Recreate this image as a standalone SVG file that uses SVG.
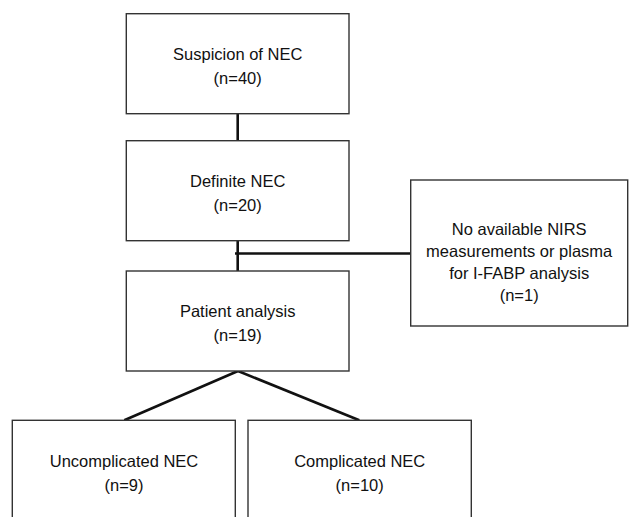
<svg xmlns="http://www.w3.org/2000/svg" width="629" height="517" viewBox="0 0 629 517">
<style>
.box{fill:#fff;stroke:#333;stroke-width:1.4}
.lbl{font-family:"Liberation Sans",Arial,sans-serif;font-size:16.5px;fill:#111;text-anchor:middle}
.con{stroke:#111;stroke-width:2.6;fill:none}
</style>
<rect width="629" height="517" fill="#fff"/>
<g id="connectors">
<line class="con" x1="237.7" y1="113.7" x2="237.7" y2="140.7"/>
<line class="con" x1="237.7" y1="240.7" x2="237.7" y2="271"/>
<line class="con" x1="235" y1="253.5" x2="410.7" y2="253.5"/>
<line class="con" x1="238" y1="371" x2="124.3" y2="420.3"/>
<line class="con" x1="238" y1="371" x2="359.3" y2="420.3"/>
</g>
<g id="suspicion">
<rect class="box" x="126.3" y="13.7" width="222.7" height="100"/>
<text class="lbl" x="237.7" y="60">Suspicion of NEC</text>
<text class="lbl" x="237.7" y="84">(n=40)</text>
</g>
<g id="definite">
<rect class="box" x="126.3" y="140.7" width="222.7" height="100"/>
<text class="lbl" x="237.7" y="187">Definite NEC</text>
<text class="lbl" x="237.7" y="211">(n=20)</text>
</g>
<g id="excluded">
<rect class="box" x="410.7" y="180" width="217" height="146"/>
<text class="lbl" x="519.2" y="235">No available NIRS</text>
<text class="lbl" x="519.2" y="257">measurements or plasma</text>
<text class="lbl" x="519.2" y="279">for I-FABP analysis</text>
<text class="lbl" x="519.2" y="301">(n=1)</text>
</g>
<g id="patient">
<rect class="box" x="126.3" y="271" width="222.7" height="100"/>
<text class="lbl" x="237.7" y="317">Patient analysis</text>
<text class="lbl" x="237.7" y="341">(n=19)</text>
</g>
<g id="uncomplicated">
<rect class="box" x="12.3" y="420.3" width="223" height="110"/>
<text class="lbl" x="124" y="467">Uncomplicated NEC</text>
<text class="lbl" x="124" y="491">(n=9)</text>
</g>
<g id="complicated">
<rect class="box" x="248" y="420.3" width="223.3" height="110"/>
<text class="lbl" x="359.7" y="467">Complicated NEC</text>
<text class="lbl" x="359.7" y="491">(n=10)</text>
</g>
</svg>
